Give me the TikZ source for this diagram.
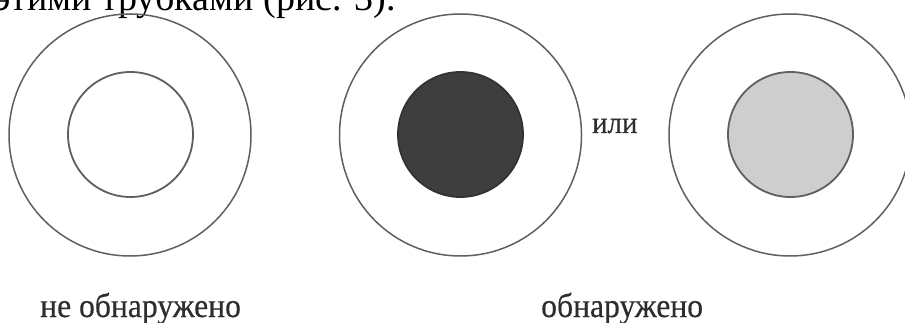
\documentclass[tikz,border=0pt]{standalone}
\usepackage{fontspec}
\setmainfont{Liberation Serif}
\newfontfamily\labelfont[FakeStretch=0.93,FakeBold=0.4]{Liberation Serif}
\definecolor{ringgray}{RGB}{95,95,95}
\definecolor{darkfill}{RGB}{62,62,62}
\definecolor{lightfill}{RGB}{206,206,206}
\definecolor{txt}{RGB}{45,45,45}
\tikzset{
  outerring/.style={circle, draw=ringgray, line width=1.5pt, minimum size=242pt, inner sep=0pt},
  innerring/.style={circle, draw=ringgray, line width=1.8pt, minimum size=125pt, inner sep=0pt},
  darkdisk/.style={innerring, fill=darkfill, draw=darkfill!80!black},
  lightdisk/.style={innerring, fill=lightfill},
  labeltext/.style={inner sep=0pt, text=txt, font=\labelfont\fontsize{34}{40}\selectfont},
  ilitext/.style={inner sep=0pt, text=txt, font=\labelfont\fontsize{31}{36}\selectfont},
  toptext/.style={inner sep=0pt, text=black, font=\fontsize{38}{44}\selectfont}
}
\begin{document}
\begin{tikzpicture}[x=1pt,y=-1pt]
\useasboundingbox[clip] (0,0) rectangle (905,323);
\fill[white] (0,0) rectangle (905,323);
% cut-off caption line at the top
\node[toptext, anchor=base west] (cap) at (-6,11) {этими трубками (рис. 3).};
% left target
\node[outerring] (o1) at (130,135) {};
\node[innerring] (i1) at (130.5,134.5) {};
% middle target
\node[outerring] (o2) at (460.5,135) {};
\node[darkdisk] (i2) at (460.5,134.5) {};
% right target
\node[outerring] (o3) at (790,135) {};
\node[lightdisk] (i3) at (790.5,134.5) {};
% labels
\node[ilitext, anchor=base west] (ili) at (592,133) {или};
\node[labeltext, anchor=base west] (ne) at (40,317) {не обнаружено};
\node[labeltext, anchor=base west] (ob) at (541,317) {обнаружено};
\end{tikzpicture}
\end{document}
